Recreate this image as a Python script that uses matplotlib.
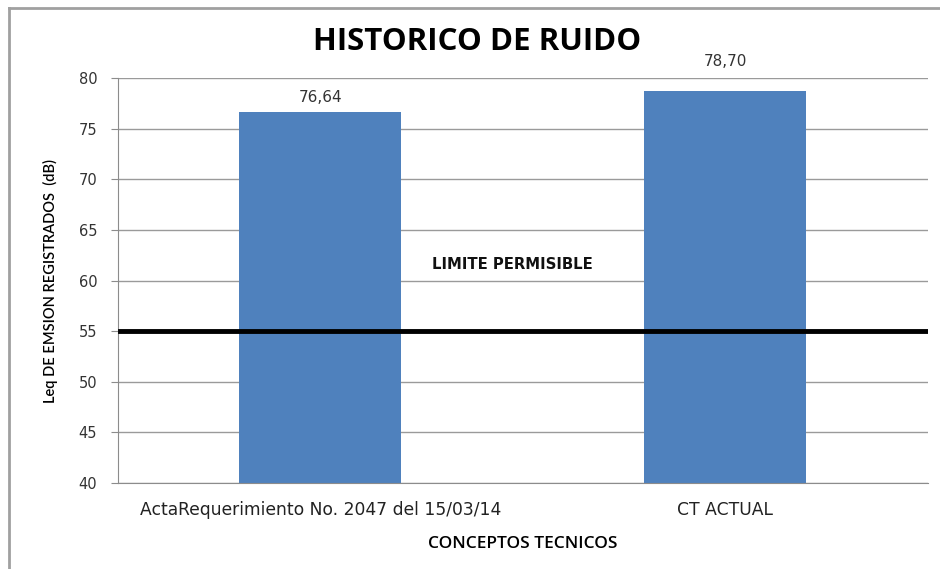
import matplotlib
matplotlib.use("Agg")
import matplotlib.pyplot as plt
from matplotlib.lines import Line2D

categories = ["ActaRequerimiento No. 2047 del 15/03/14", "CT ACTUAL"]
values = [76.64, 78.70]
value_labels = ["76,64", "78,70"]
limit = 55
yticks = [40, 45, 50, 55, 60, 65, 70, 75, 80]

# label offsets above the bars (points), as placed in the original
label_offsets = [5, 16]

fig = plt.figure(figsize=(9.4, 5.69), dpi=100)
ax = fig.add_axes([0.1255, 0.1511, 0.8615, 0.7118])

x = list(range(len(categories)))
ax.bar(x, values, width=0.4, color="#4F81BD", zorder=2)
for xi, v, lab, off in zip(x, values, value_labels, label_offsets):
    ax.annotate(lab, (xi, v), xytext=(0, off), textcoords="offset points",
                ha="center", va="bottom", fontsize=11, color="#333333",
                family="DejaVu Sans", annotation_clip=False)

ax.axhline(limit, xmin=0.003, xmax=1.0, color="black", linewidth=3.5, zorder=3)
ax.text(0.475, 60.8, "LIMITE PERMISIBLE", ha="center", va="bottom",
        fontsize=10.7, fontweight="bold", family="DejaVu Sans", color="#111111")

ax.set_xlim(-0.5, 1.5)
ax.set_ylim(40, 80)
ax.set_yticks(yticks)
ax.set_yticklabels([str(t) for t in yticks], fontsize=10.5, color="#333333")
ax.set_xticks(x)
ax.set_xticklabels(categories, fontsize=12.3, family="DejaVu Sans", color="#222222")
ax.tick_params(axis="x", length=0, pad=13)
ax.tick_params(axis="y", length=5, color="#8c8c8c", pad=10)
ax.grid(axis="y", color="#9a9a9a", linewidth=1, zorder=0)
ax.set_axisbelow(True)
for s in ["top", "right"]:
    ax.spines[s].set_visible(False)
ax.spines["left"].set_color("#8c8c8c")
ax.spines["bottom"].set_color("#8c8c8c")

ax.set_ylabel("Leq DE EMSION REGISTRADOS  (dB)", fontsize=10.5, family="Lato",
              fontweight="semibold", labelpad=15)
ax.set_xlabel("CONCEPTOS TECNICOS", fontsize=12.5, family="Open Sans",
              fontweight="semibold", labelpad=12)
fig.text(0.508, 0.927, "HISTORICO DE RUIDO", ha="center", va="center",
         fontsize=22.5, fontweight="bold", family="Open Sans")

# outer chart frame (top and left edges visible)
fig.lines.append(Line2D([9 / 940, 1.0], [1 - 8 / 569, 1 - 8 / 569],
                        transform=fig.transFigure, color="#a0a0a0", linewidth=2))
fig.lines.append(Line2D([9 / 940, 9 / 940], [0.0, 1 - 8 / 569],
                        transform=fig.transFigure, color="#a0a0a0", linewidth=2))

fig.savefig("out.png", dpi=100)
